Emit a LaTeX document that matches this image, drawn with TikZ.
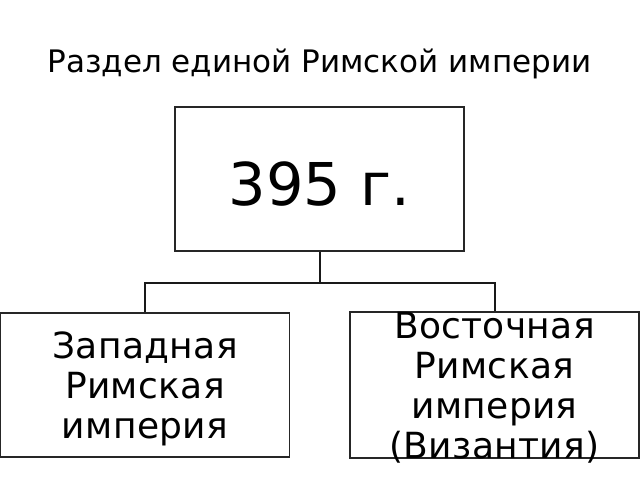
\documentclass[tikz,border=0pt]{standalone}
\usepackage{fontspec}
\setmainfont{DejaVu Sans}
\newfontfamily\spacedfont[LetterSpace=1]{DejaVu Sans}
\begin{document}
\begin{tikzpicture}[x=1pt,y=-1pt,
  box/.style={draw=black!85,line width=1.6pt,fill=white,minimum width=289pt,minimum height=144pt,inner sep=0pt},
  lowbox/.style={box,align=center,font=\spacedfont\fontsize{36}{40}\selectfont,text depth=0pt},
  conn/.style={draw=black!90,line width=2pt}]
\useasboundingbox (0,0) rectangle (640,480);
\node[anchor=base,font=\fontsize{31}{36}\selectfont] (title) at (319.5,72) {Раздел единой Римской империи};
\node[box,font=\fontsize{59}{70}\selectfont,text height=52pt,text depth=0pt] (top) at (319.5,179) {395 г.};
\node[lowbox,text height=106pt] (west) at (145,385) {Западная\\Римская\\империя};
\node[lowbox,text height=146pt] (east) at (494.5,385) {Восточная\\Римская\\империя\\(Византия)};
\draw[conn] (top.south) -- ++(0,31) coordinate (j) -| (west.north);
\draw[conn] (j) -| (east.north);
\end{tikzpicture}
\end{document}
